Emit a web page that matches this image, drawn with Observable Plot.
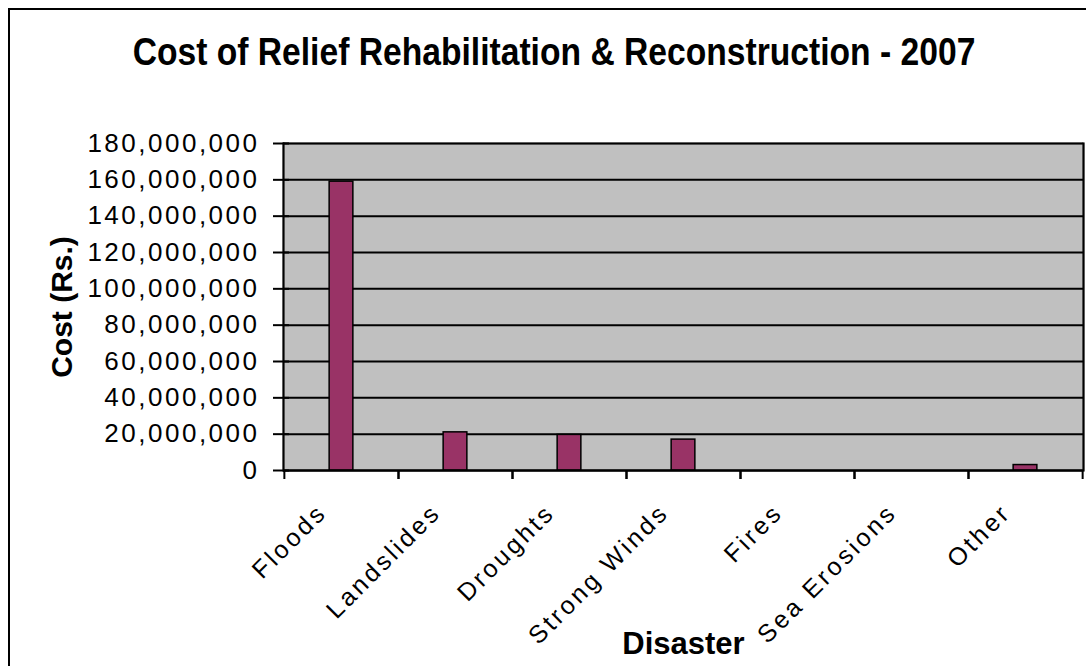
<!DOCTYPE html>
<html><head><meta charset="utf-8">
<script src="https://cdn.jsdelivr.net/npm/d3@7"></script>
<script src="https://cdn.jsdelivr.net/npm/@observablehq/plot@0.6"></script>
<style>
body{margin:0;background:#fff;}
#wrap{position:relative;width:1086px;height:666px;overflow:hidden;background:#fff;}
#border{position:absolute;left:8px;top:8px;width:1200px;height:700px;border-left:2px solid #000;border-top:2px solid #000;}
#title{position:absolute;top:30px;left:54px;width:1000px;text-align:center;font:bold 38px "Liberation Sans",Arial,sans-serif;line-height:44px;color:#000;white-space:nowrap;transform:scaleX(0.885);transform-origin:500px 0;}
#chart{position:absolute;top:100px;left:0;}
g[aria-label="y-axis label"] text{font-weight:bold;font-size:30px;}
g[aria-label="x-axis label"] text{font-weight:bold;font-size:31px;}
g[aria-label="y-axis tick label"] text{letter-spacing:2.5px;}
g[aria-label="x-axis tick label"] text{letter-spacing:3px;}
</style></head>
<body>
<div id="wrap">
  <div id="border"></div>
  <div id="title">Cost of Relief Rehabilitation &amp; Reconstruction - 2007</div>
  <div id="chart"></div>
</div>
<script>
const disasters = ["Floods", "Landslides", "Droughts", "Strong Winds", "Fires", "Sea Erosions", "Other"];
const costs = [159000000, 21000000, 19600000, 17000000, 0, 0, 3000000];
const yTicks = [0, 20000000, 40000000, 60000000, 80000000, 100000000, 120000000, 140000000, 160000000, 180000000];

const data = disasters.map((d, i) => ({disaster: d, cost: costs[i]}));

const W = 1086, H = 566, mL = 283, mR = 3, mT = 43, mB = 196;
const bw = (W - mL - mR) / disasters.length;

const chart = Plot.plot({
  width: W, height: H,
  marginLeft: mL, marginRight: mR, marginTop: mT, marginBottom: mB,
  style: {fontFamily: "'Liberation Sans', Arial, sans-serif", color: "#000", background: "transparent", overflow: "visible"},
  x: {domain: disasters, padding: 0},
  y: {domain: [0, 180000000]},
  marks: [
    Plot.frame({fill: "#c0c0c0", stroke: "#808080", strokeWidth: 2}),
    Plot.gridY(yTicks, {stroke: "#000", strokeOpacity: 1, strokeWidth: 2}),
    Plot.barY(data, {x: "disaster", y: "cost", fill: "#993366", stroke: "#000", strokeWidth: 1.5, insetLeft: bw * 0.395, insetRight: bw * 0.395}),
    Plot.frame({anchor: "left", stroke: "#000", strokeWidth: 2}),
    Plot.frame({anchor: "right", stroke: "#000", strokeWidth: 2}),
    Plot.ruleY([0], {stroke: "#000", strokeWidth: 2}),
    Plot.axisY({ticks: yTicks, tickFormat: d3.format(","), tickSize: 10, tickPadding: 14, fontSize: 26, strokeWidth: 2,
      label: "Cost (Rs.)", labelAnchor: "center", labelArrow: "none", labelOffset: 233}),
    Plot.axisY({ticks: yTicks, tickFormat: () => "", tickSize: 6, dx: 6, strokeWidth: 2, label: null}),
    Plot.axisX({tickSize: 0, tickRotate: -45, tickPadding: 38, dx: -19, fontSize: 25,
      label: "Disaster", labelAnchor: "center", labelArrow: "none", labelOffset: 183}),
    Plot.axisX({tickSize: 9, tickFormat: () => "", dx: -bw / 2, strokeWidth: 2, label: null}),
    Plot.axisX({tickSize: 9, tickFormat: () => "", dx: bw / 2, strokeWidth: 2, label: null})
  ]
});
document.getElementById("chart").appendChild(chart);
</script>
</body></html>
